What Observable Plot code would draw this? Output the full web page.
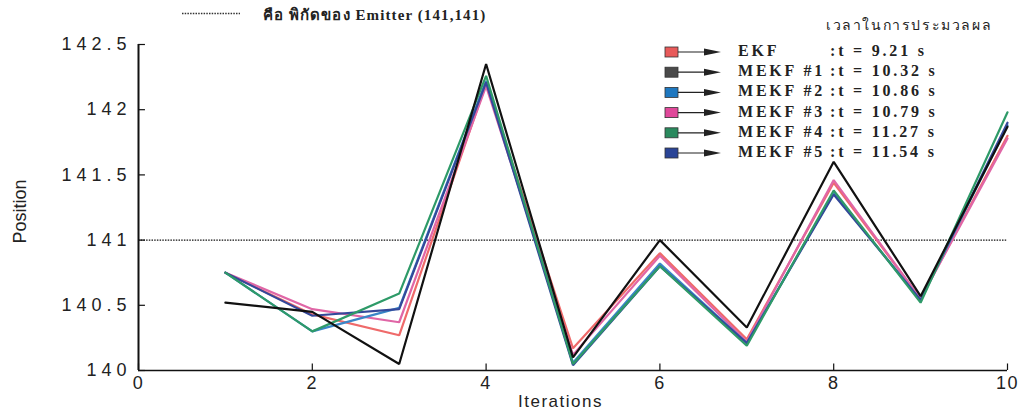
<!DOCTYPE html>
<html>
<head>
<meta charset="utf-8">
<script src="https://cdn.jsdelivr.net/npm/d3@7"></script>
<script src="https://cdn.jsdelivr.net/npm/@observablehq/plot@0.6"></script>
<style>
  html, body { margin: 0; padding: 0; background: #fff; }
  #wrap { position: relative; width: 1025px; height: 416px; overflow: hidden; }
  .ser { font-family: "Liberation Serif", "DejaVu Serif", serif; font-weight: bold; color: #222; position: absolute; white-space: nowrap; }
  .lab { font-family: "Liberation Sans", Arial, sans-serif; color: #222; position: absolute; white-space: nowrap; }
</style>
</head>
<body>
<div id="wrap"></div>
<script>
// ---- data ----
const iterations = [1, 2, 3, 4, 5, 6, 7, 8, 9, 10];
const seriesNames = ["EKF", "MEKF #1", "MEKF #2", "MEKF #3", "MEKF #4", "MEKF #5"];
const times = [":t = 9.21 s", ":t = 10.32 s", ":t = 10.86 s", ":t = 10.79 s", ":t = 11.27 s", ":t = 11.54 s"];
const ekf   = [140.75, 140.43, 140.27, 142.20, 140.17, 140.90, 140.24, 141.44, 140.55, 141.80];
const mekf1 = [140.52, 140.45, 140.05, 142.35, 140.10, 141.00, 140.33, 141.60, 140.57, 141.87];
const mekf2 = [140.75, 140.30, 140.48, 142.22, 140.06, 140.82, 140.21, 141.36, 140.54, 141.88];
const mekf3 = [140.75, 140.47, 140.37, 142.18, 140.12, 140.88, 140.22, 141.46, 140.55, 141.78];
const mekf4 = [140.75, 140.30, 140.59, 142.26, 140.05, 140.80, 140.19, 141.38, 140.52, 141.98];
const mekf5 = [140.75, 140.42, 140.47, 142.21, 140.04, 140.80, 140.21, 141.35, 140.54, 141.90];
const emitter = 141;
const xTicks = [0, 2, 4, 6, 8, 10];
const yTicks = [140, 140.5, 141, 141.5, 142, 142.5];
const lineColors = ["#ef6a6a", "#111111", "#3a86c8", "#e066a6", "#2e9a68", "#34489a"];
const swatchColors = ["#e85a5a", "#4a4a4a", "#1f78c0", "#e0489a", "#2a8a5e", "#2a4496"];
const titleLeft = "คือ พิกัดของ Emitter (141,141)";
const titleRight = "เวลาในการประมวลผล";

const allSeries = [ekf, mekf1, mekf2, mekf3, mekf4, mekf5];
const drawOrder = [0, 3, 2, 5, 4, 1];
const rows = [];
drawOrder.forEach(si => {
  allSeries[si].forEach((v, i) => rows.push({s: seriesNames[si], x: iterations[i], y: v, c: lineColors[si]}));
});

const chart = Plot.plot({
  width: 1025,
  height: 416,
  marginLeft: 138,
  marginRight: 18,
  marginTop: 44,
  marginBottom: 46,
  x: {domain: [0, 10]},
  y: {domain: [140, 142.5]},
  style: {background: "transparent", fontFamily: "Liberation Sans, Arial, sans-serif"},
  marks: [
    Plot.ruleY([emitter], {x1: 0, x2: 10, stroke: "#111", strokeWidth: 1.3, strokeDasharray: "1.5,1.2"}),
    Plot.line(rows, {x: "x", y: "y", z: "s", stroke: "c", strokeWidth: 2.2, strokeLinejoin: "miter"}),
    Plot.ruleX([0], {y1: 140, y2: 142.5, stroke: "#111", strokeWidth: 2}),
    Plot.ruleY([140], {x1: 0, x2: 10, stroke: "#111", strokeWidth: 1.5}),
    Plot.ruleY(yTicks, {x1: 0, x2: 0.08, stroke: "#111", strokeWidth: 1.2}),
    Plot.ruleX(xTicks, {y1: 140, y2: 140.05, stroke: "#111", strokeWidth: 1.2}),
    Plot.axisY({ticks: yTicks, tickSize: 0, tickPadding: 7, tickFormat: d => String(d), label: null, fontSize: 18, fill: "#222"}),
    Plot.axisX({ticks: xTicks, tickSize: 0, tickPadding: 6, tickFormat: d => String(d), label: null, fontSize: 18, fill: "#222"})
  ]
});
chart.querySelectorAll("g[aria-label='y-axis tick label'] text").forEach(t => {
  t.setAttribute("letter-spacing", "5");
});
chart.querySelectorAll("g[aria-label='x-axis tick label'] text").forEach(t => {
  t.setAttribute("letter-spacing", "1.5");
});
const wrap = document.getElementById("wrap");
wrap.appendChild(chart);

function add(cls, text, left, top, size, extra) {
  const d = document.createElement("div");
  d.className = cls;
  d.textContent = text;
  d.style.left = left + "px";
  d.style.top = top + "px";
  d.style.fontSize = size + "px";
  if (extra) Object.assign(d.style, extra);
  wrap.appendChild(d);
  return d;
}

// top-left legend for emitter line
const ns = "http://www.w3.org/2000/svg";
const topSvg = document.createElementNS(ns, "svg");
topSvg.setAttribute("width", 1025); topSvg.setAttribute("height", 170);
topSvg.style.position = "absolute"; topSvg.style.left = "0px"; topSvg.style.top = "0px";
const dl = document.createElementNS(ns, "line");
dl.setAttribute("x1", 182); dl.setAttribute("x2", 240); dl.setAttribute("y1", 13.5); dl.setAttribute("y2", 13.5);
dl.setAttribute("stroke", "#333"); dl.setAttribute("stroke-width", 1.3); dl.setAttribute("stroke-dasharray", "1.5,1.2");
topSvg.appendChild(dl);

// legend swatches + arrows
seriesNames.forEach((n, i) => {
  const y = 52 + i * 20.2;
  const r = document.createElementNS(ns, "rect");
  r.setAttribute("x", 665); r.setAttribute("y", y - 5); r.setAttribute("width", 13); r.setAttribute("height", 10);
  r.setAttribute("fill", swatchColors[i]); r.setAttribute("stroke", "#333"); r.setAttribute("stroke-width", 0.8);
  topSvg.appendChild(r);
  const l = document.createElementNS(ns, "line");
  l.setAttribute("x1", 678); l.setAttribute("x2", 712); l.setAttribute("y1", y); l.setAttribute("y2", y);
  l.setAttribute("stroke", "#222"); l.setAttribute("stroke-width", 1.2);
  topSvg.appendChild(l);
  const p = document.createElementNS(ns, "path");
  p.setAttribute("d", `M704,${y - 3.5}L721,${y}L704,${y + 3.5}Z`);
  p.setAttribute("fill", "#222");
  topSvg.appendChild(p);
});
wrap.appendChild(topSvg);

add("ser", titleLeft, 263, 3, 15, {letterSpacing: "1.1px"});
add("lab", titleRight, 826, 14, 14, {letterSpacing: "1.6px"});

seriesNames.forEach((n, i) => {
  const y = 52 + i * 20.2;
  add("ser", n, 738, y - 10, 16, {letterSpacing: "2.8px"});
  add("ser", times[i], 830, y - 10, 16, {letterSpacing: "2.8px"});
});

// axis titles
add("lab", "Position", -12, 201, 18, {transform: "rotate(-90deg)", transformOrigin: "center", letterSpacing: "0px"});
add("lab", "Iterations", 518, 392, 17, {letterSpacing: "1.5px"});
</script>
</body>
</html>
